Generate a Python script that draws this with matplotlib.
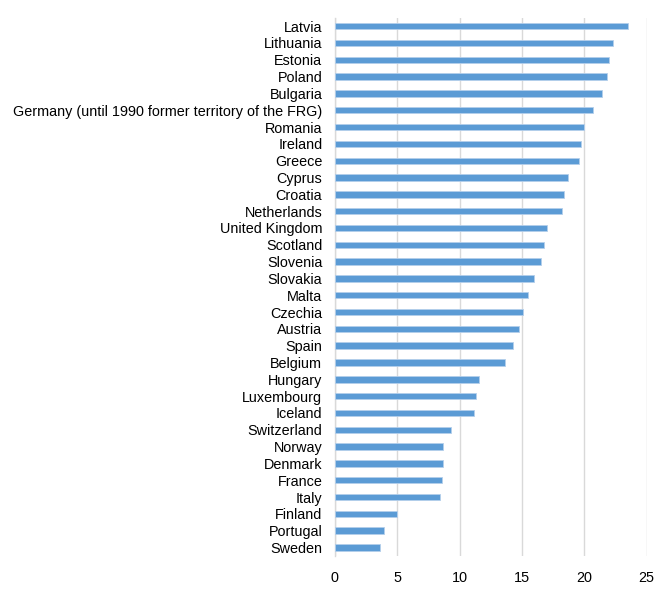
import matplotlib
matplotlib.use("Agg")
import matplotlib.pyplot as plt

countries = ["Latvia", "Lithuania", "Estonia", "Poland", "Bulgaria",
             "Germany (until 1990 former territory of the FRG)", "Romania",
             "Ireland", "Greece", "Cyprus", "Croatia", "Netherlands",
             "United Kingdom", "Scotland", "Slovenia", "Slovakia", "Malta",
             "Czechia", "Austria", "Spain", "Belgium", "Hungary", "Luxembourg",
             "Iceland", "Switzerland", "Norway", "Denmark", "France", "Italy",
             "Finland", "Portugal", "Sweden"]
values = [23.5, 22.3, 21.95, 21.85, 21.4, 20.7, 20.0, 19.75, 19.6, 18.7,
          18.4, 18.2, 17.0, 16.75, 16.5, 16.0, 15.5, 15.1, 14.75, 14.3,
          13.65, 11.6, 11.35, 11.15, 9.35, 8.7, 8.7, 8.6, 8.45, 5.0, 3.95, 3.6]
xticks = [0, 5, 10, 15, 20, 25]

plt.rcParams['font.family'] = ['Liberation Sans', 'DejaVu Sans']

fig = plt.figure(figsize=(6.61, 5.92), dpi=100)
ax = fig.add_axes([0.5065, 0.061, 0.4717, 0.909])

pos = list(range(len(countries)))
ax.barh(pos, values, height=0.38, color='#5B9BD5', edgecolor='#B4CFEB',
        linewidth=0.6, zorder=3)

ax.set_ylim(len(countries) - 0.5, -0.5)
ax.set_xlim(0, 25)
ax.set_yticks(pos)
ax.set_yticklabels(countries, fontsize=10.4)
ax.set_xticks(xticks)
ax.set_xticklabels([str(t) for t in xticks], fontsize=10.4)
ax.tick_params(axis='both', length=0, colors='black')
ax.tick_params(axis='y', pad=9)
ax.tick_params(axis='x', pad=11)

ax.grid(axis='x', color='#D9D9D9', linewidth=1.0, zorder=0)
for side in ['top', 'right', 'bottom']:
    ax.spines[side].set_visible(False)
ax.spines['left'].set_color('#D9D9D9')
ax.spines['left'].set_linewidth(1.0)

fig.savefig("out.png", dpi=100)
